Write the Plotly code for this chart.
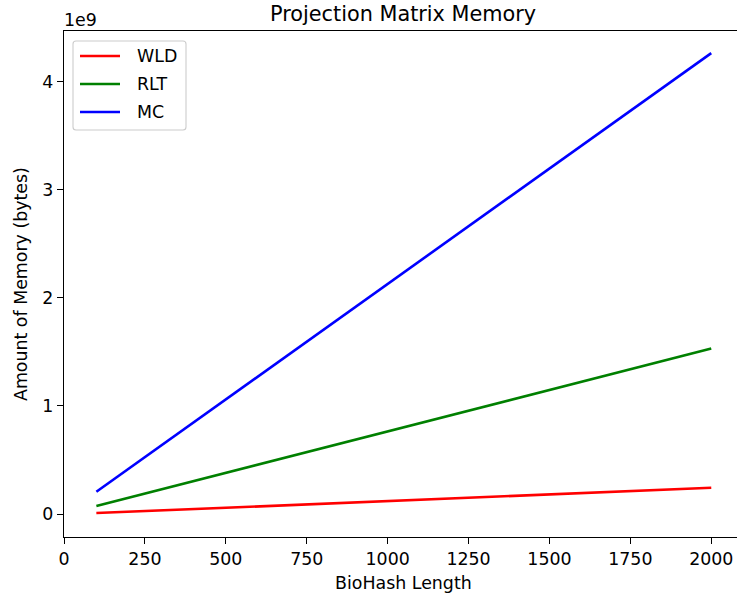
import plotly.graph_objects as go

lengths = [100, 500, 1000, 1500, 2000]
wld = [0.009e9, 0.058e9, 0.120e9, 0.181e9, 0.243e9]
rlt = [0.074e9, 0.381e9, 0.766e9, 1.150e9, 1.532e9]
mc = [0.206e9, 1.060e9, 2.128e9, 3.197e9, 4.265e9]

series = [("WLD", wld, "#ff0000"), ("RLT", rlt, "#008000"), ("MC", mc, "#0000ff")]
x_ticks = [0, 250, 500, 750, 1000, 1250, 1500, 1750, 2000]
y_ticks = [0, 1e9, 2e9, 3e9, 4e9]
y_tick_text = ["0", "1", "2", "3", "4"]

FONT = "DejaVu Sans"
FS = 17.4
fig = go.Figure()
for name, vals, col in series:
    fig.add_trace(go.Scatter(x=lengths, y=vals, mode="lines", name=name,
                             line=dict(color=col, width=2.6), showlegend=False))

# the axes box runs slightly past the 737 px window, as in the reference
W, H = 746, 596
L, R, T, B = 64, 4, 31, 59
PW = W - L - R
PH = H - T - B


def px(x):
    return (x - L) / PW


def py(y):
    return 1 - (y - T) / PH


fig.update_layout(
    width=W, height=H,
    margin=dict(l=L, r=R, t=T, b=B, pad=0, autoexpand=False),
    paper_bgcolor="white", plot_bgcolor="white",
    font=dict(family=FONT, size=FS, color="black"),
    showlegend=False,
)
fig.update_xaxes(range=[0, 2095], tickvals=x_ticks, ticktext=[str(v) for v in x_ticks],
                 showgrid=False, zeroline=False, showline=True, linecolor="black",
                 linewidth=1.4, mirror=True, ticks="outside", ticklen=6, tickwidth=1.4,
                 tickcolor="black", automargin=False, tickfont=dict(size=FS))
fig.update_yaxes(range=[-0.2125e9, 4.4695e9], tickvals=y_ticks, ticktext=y_tick_text,
                 showgrid=False, zeroline=False, showline=True, linecolor="black",
                 linewidth=1.4, mirror=True, ticks="outside", ticklen=6, tickwidth=1.4,
                 tickcolor="black", automargin=False, tickfont=dict(size=FS))

# legend drawn manually
x0, x1, y0, y1, r = 73, 186, 41, 130, 3
path = (f"M {px(x0 + r)} {py(y0)} L {px(x1 - r)} {py(y0)} "
        f"Q {px(x1)} {py(y0)} {px(x1)} {py(y0 + r)} L {px(x1)} {py(y1 - r)} "
        f"Q {px(x1)} {py(y1)} {px(x1 - r)} {py(y1)} L {px(x0 + r)} {py(y1)} "
        f"Q {px(x0)} {py(y1)} {px(x0)} {py(y1 - r)} L {px(x0)} {py(y0 + r)} "
        f"Q {px(x0)} {py(y0)} {px(x0 + r)} {py(y0)} Z")
fig.add_shape(type="path", path=path, xref="paper", yref="paper",
              fillcolor="rgba(255,255,255,0.8)", line=dict(color="#cccccc", width=1.1))
for i, (name, vals, col) in enumerate(series):
    yy = 56 + i * 28
    fig.add_shape(type="line", xref="paper", yref="paper", x0=px(80), x1=px(120),
                  y0=py(yy), y1=py(yy), line=dict(color=col, width=2.6))
    fig.add_annotation(text=name, xref="paper", yref="paper", x=px(135), y=py(yy),
                       xanchor="left", yanchor="middle", showarrow=False,
                       font=dict(family=FONT, size=FS))

fig.add_annotation(text="Projection Matrix Memory", xref="paper", yref="paper",
                   x=0.5, y=py(14), yanchor="middle",
                   showarrow=False, font=dict(family=FONT, size=20.8))
fig.add_annotation(text="1e9", xref="paper", yref="paper", x=0, y=py(19.5),
                   xanchor="left", yanchor="middle", xshift=-2, showarrow=False,
                   font=dict(family=FONT, size=FS))
fig.add_annotation(text="BioHash Length", xref="paper", yref="paper",
                   x=0.5, y=py(583), yanchor="middle",
                   showarrow=False, font=dict(family=FONT, size=FS))
fig.add_annotation(text="Amount of Memory (bytes)", xref="paper", yref="paper",
                   x=px(21), y=0.5, xanchor="center", yanchor="middle",
                   textangle=-90, showarrow=False, font=dict(family=FONT, size=FS))

fig.write_html("out.html", config={"displayModeBar": False},
               post_script="document.body.style.margin='0';document.body.style.overflow='hidden';")
